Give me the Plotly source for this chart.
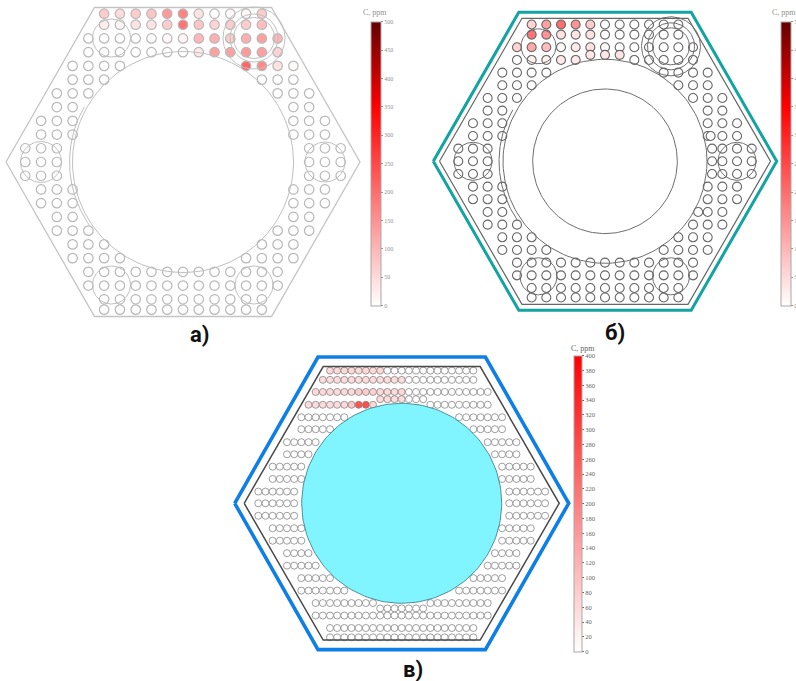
import numpy as np
import plotly.graph_objects as go

# --- tube lattice: (row, first column, last column) -------------------------
SHARED_SPANS = [
    (10.8, -5, 5), (10, -5, 5), (9, -6, 6),
    (7, -7, -4), (7, 4, 7), (6, -7, -5), (6, 5, 7), (5, -8, -6), (5, 6, 8),
    (4, -8, -7), (4, 7, 8), (3, -9, -7), (3, 7, 9), (2, -9, -7), (2, 7, 9),
    (1, -10, -8), (1, 8, 10), (0, -10, -8), (0, 8, 10), (-1, -10, -8), (-1, 8, 10),
    (-2, -9, -7), (-2, 7, 9), (-3, -9, -7), (-3, 7, 9), (-4, -8, -7), (-4, 7, 8),
    (-5, -8, -6), (-5, 6, 8), (-6, -7, -5), (-6, 5, 7), (-7, -7, -4), (-7, 4, 7),
    (-8, -6, 6), (-9, -6, 6), (-10, -5, 5), (-10.75, -5, 5),
]
A_SPANS = SHARED_SPANS + [(8, -6, 6)]
B_SPANS = SHARED_SPANS + [(8, -6, -2), (8.4, -1, 1), (8, 2, 6)]
B_EXTRA_TUBES = [(1, 7.3), (0, 7.3), (-1, 7.3), (-4, 6.35), (2, 7.2)]
C_SPANS = [
    (10.64, -10, 10), (9.9, -11, 10), (8.93, -12, 12), (8.35, -3, 3),
    (7.9, -13, -4), (7.9, 4, 12), (6.9, -14, -8), (6.9, 8, 14),
    (5.94, -14, -10), (5.94, 10, 14), (4.9, -16, -12), (4.9, 12, 16),
    (3.93, -16, -13), (3.93, 13, 16), (2.94, -18, -14), (2.94, 14, 18),
    (1.95, -18, -14), (1.95, 14, 18), (0.94, -20, -15), (0.94, 15, 20),
    (0, -20, -15), (0, 15, 20), (-1, -20, -15), (-1, 15, 20),
    (-2, -18, -14), (-2, 14, 18), (-3, -18, -14), (-3, 14, 18),
    (-4, -16, -13), (-4, 13, 16), (-5, -16, -12), (-5, 12, 16),
    (-6, -14, -10), (-6, 10, 14), (-7, -14, -8), (-7, 8, 14),
    (-8, -12, -4), (-8, 4, 12), (-8.43, -3, 3), (-9, -12, 12),
    (-10, -10, 10), (-10.75, -10, 10),
]

# --- concentration, ppm: row -> values starting at the given column ---------
A_C = {
    10.8: (-5, [70, 50, 70, 80, 140, 170, 40, 0, 5, 10, 70]),
    10: (-5, [25, 15, 40, 40, 70, 190, 80, 60, 70, 70, 90]),
    9: (-6, [0, 0, 0, 0, 0, 10, 15, 100, 110, 70, 110, 130, 100]),
    8: (-6, [0, 0, 0, 0, 0, 0, 0, 30, 130, 130, 140, 130, 60]),
    7: (4, [210, 160, 40, 5]),
}
B_C = {
    10.8: (-5, [60, 130, 200, 150, 70]),
    10: (-5, [190, 150, 40, 40, 40]),
    9: (-6, [60, 120, 90, 5, 30, 40, 5]),
    8: (-5, [20, 20, 30, 30]),
    8.4: (-1, [35, 35, 35]),
}
C_C = {
    10.64: (-10, [60, 60, 60, 60, 60, 60, 60, 60]),
    9.9: (-11, [55, 55, 55, 55, 55, 55, 55, 55, 55, 55, 55, 55]),
    8.93: (-12, [60, 60, 60, 60, 60, 60, 80, 80, 70, 60, 60, 60, 60]),
    8.35: (-3, [55, 55, 55, 55]),
    7.9: (-13, [55, 55, 55, 55, 55, 60, 90, 270, 280, 60]),
}
A_TICKS = [0, 50, 100, 150, 200, 250, 300, 350, 400, 450, 500]
B_TICKS = A_TICKS
C_TICKS = list(range(0, 401, 20))
COLORBAR_TITLE = "C, ppm"
CAPTIONS = ["а)", "б)", "в)"]

# --- panel geometry, in drawing units ---------------------------------------
W, H = 796, 681
DARK_SCALE = [[0, "#ffffff"], [0.7, "#ff0000"], [1, "#650000"]]
RED_SCALE = [[0, "#ffffff"], [1, "#ff0000"]]


def hex_xy(half_w, half_top, half_h):
    return ([-half_w, -half_top, half_top, half_w, half_top, -half_top, -half_w],
            [0, half_h, half_h, 0, -half_h, -half_h, 0])


def ring(cx, cy, r, a0=0, a1=360):
    t = np.radians(np.linspace(a0, a1, 181))
    return cx + r * np.cos(t), cy + r * np.sin(t)


def tubes(spans, conc, extras=()):
    pts = {}
    for row, c0, c1 in spans:
        for col in range(c0, c1 + 1):
            pts[(row, col)] = 0
    for row, (c0, vals) in conc.items():
        for i, v in enumerate(vals):
            pts[(row, c0 + i)] = v
    for row, col in extras:
        pts[(row, col)] = 0
    keys = list(pts)
    return (np.array([k[1] for k in keys], float), np.array([k[0] for k in keys], float),
            np.array([pts[k] for k in keys], float))


PANELS = [
    dict(cx=183, cy=162, px=15.77, py=13.73, spans=A_SPANS, c=A_C, extra=(), cmax=500, scale=DARK_SCALE,
         ms=9.5, ml=1.2, tube="#b8b8b8", ticks=A_TICKS, bar=(371, 21.7, 10, 284), tick="#909090", fs=6,
         title_xy=(375, 12.5), ring_color="#bfbfbf"),
    dict(cx=605, cy=161.3, px=14.67, py=12.67, spans=B_SPANS, c=B_C, extra=B_EXTRA_TUBES, cmax=500, scale=DARK_SCALE,
         ms=9, ml=1.1, tube="#666666", ticks=B_TICKS, bar=(781, 21.7, 10, 284), tick="#909090", fs=6,
         title_xy=(784, 12.5), ring_color="#6e6e6e"),
    dict(cx=401.7, cy=503.3, px=7.17, py=12.47, spans=C_SPANS, c=C_C, extra=(), cmax=400, scale=RED_SCALE,
         ms=7, ml=0.8, tube="#858585", ticks=C_TICKS, bar=(574, 355.7, 8, 296), tick="#666666", fs=6.5,
         title_xy=(582.5, 348.5), ring_color="#666666"),
]
HALF = 195  # half-size of each panel's axes

# outline: (half width, half top edge, half height, colour, line width)
OUTLINES = [
    [(177, 88.5, 154.5, "#c4c4c4", 1.3)],
    [(171.7, 86.2, 149, "#13a3a3", 3), (165.5, 83, 143, "#666666", 1.2)],
    [(167, 83.7, 146.3, "#0f7fe8", 3.6), (157.5, 78.5, 136.8, "#4a4a4a", 1.5)],
]
# thin circles: (x, y, radius, start angle, end angle), measured from the panel centre
RINGS = [
    [(0, 0, 110.5, 0, 360), (-3, 0, 110.5, 150, 215), (-71.5, 124, 19, 0, 360), (71, 124, 20.5, 0, 360),
     (71, 124, 24, 0, 360), (71, 124, 31, 0, 360), (-142, 0, 20.5, 0, 360), (142, 0, 20, 0, 360),
     (-71.5, -123, 19, 0, 360), (71, -123, 19, 0, 360)],
    [(0, 0, 102, 0, 360), (-3, 0, 103, 150, 215), (0, 0, 72.3, 0, 360), (-66.5, 115, 17.5, 0, 360),
     (66, 115, 18.5, 0, 360), (66, 115, 23.5, 0, 360), (66, 115, 29.5, 0, 360), (-132, 0, 19, 0, 360),
     (132, 0, 19, 0, 360), (-66.5, -115, 18.5, 0, 360), (66, -115, 18.5, 0, 360)],
    [],
]
CORE = (0, 0, 100)  # cyan core of panel в

fig = go.Figure()
layout_axes = {}
for i, p in enumerate(PANELS):
    suffix = "" if i == 0 else str(i + 1)
    xref, yref = "x" + suffix, "y" + suffix
    off = dict(visible=False, showgrid=False, zeroline=False, fixedrange=True)
    layout_axes["xaxis" + suffix] = dict(
        off, domain=[max(0, (p["cx"] - HALF) / W), min(1, (p["cx"] + HALF) / W)],
        range=[max(0, p["cx"] - HALF) - p["cx"], min(W, p["cx"] + HALF) - p["cx"]], anchor=yref)
    y0, y1 = max(0, p["cy"] - 175), min(H, p["cy"] + 175)
    layout_axes["yaxis" + suffix] = dict(
        off, domain=[1 - y1 / H, 1 - y0 / H], range=[p["cy"] - y1, p["cy"] - y0], anchor=xref)

    col, row, val = tubes(p["spans"], p["c"], p["extra"])
    bx, by, bw, bh = p["bar"]
    fig.add_trace(go.Scatter(
        x=col * p["px"], y=row * p["py"], mode="markers", xaxis=xref, yaxis=yref, showlegend=False,
        marker=dict(
            size=p["ms"], color=val, cmin=0, cmax=p["cmax"], colorscale=p["scale"],
            line=dict(color=p["tube"], width=p["ml"]),
            colorbar=dict(
                x=bx / W, xanchor="left", xpad=0, y=1 - (by + bh) / H, yanchor="bottom", ypad=0,
                lenmode="pixels", len=bh, thicknessmode="pixels", thickness=bw,
                outlinecolor="#a8a8a8", outlinewidth=1, ticks="outside", ticklen=2, tickwidth=1,
                tickcolor=p["tick"], tickvals=p["ticks"],
                tickfont=dict(family="Liberation Serif", size=p["fs"], color=p["tick"]),
            ),
        ),
    ))
    for hw, ht, hh, colr, lw in OUTLINES[i]:
        hx, hy = hex_xy(hw, ht, hh)
        fig.add_trace(go.Scatter(x=hx, y=hy, mode="lines", xaxis=xref, yaxis=yref, showlegend=False,
                                 line=dict(color=colr, width=lw), hoverinfo="skip"))
    for rx, ry, rr, a0, a1 in RINGS[i]:
        cx_, cy_ = ring(rx, ry, rr, a0, a1)
        fig.add_trace(go.Scatter(x=cx_, y=cy_, mode="lines", xaxis=xref, yaxis=yref, showlegend=False,
                                 line=dict(color=p["ring_color"], width=1), hoverinfo="skip"))
    if i == 2:
        cx_, cy_ = ring(*CORE)
        fig.add_trace(go.Scatter(x=cx_, y=cy_, mode="lines", fill="toself", fillcolor="#80f4ff",
                                 xaxis=xref, yaxis=yref, showlegend=False,
                                 line=dict(color="#4f8f96", width=1), hoverinfo="skip"))

caption_pos = [(200, 334), (615, 332), (413, 669)]
annotations = [
    dict(text=t, x=x / W, y=1 - y / H, xref="paper", yref="paper", showarrow=False,
         xanchor="center", yanchor="middle",
         font=dict(family="Roboto", size=22, color="#111111", weight="bold"))
    for t, (x, y) in zip(CAPTIONS, caption_pos)
]
annotations += [
    dict(text=COLORBAR_TITLE, x=p["title_xy"][0] / W, y=1 - p["title_xy"][1] / H, xref="paper", yref="paper",
         showarrow=False, xanchor="center", yanchor="middle",
         font=dict(family="Liberation Serif", size=8, color=p["tick"]))
    for p in PANELS
]

fig.update_layout(
    width=W, height=H, margin=dict(l=0, r=0, t=0, b=0, autoexpand=False),
    paper_bgcolor="white", plot_bgcolor="rgba(0,0,0,0)", annotations=annotations, **layout_axes,
)
fig.write_html("out.html", config=dict(displayModeBar=False),
               post_script="document.body.style.margin='0';document.body.style.overflow='hidden';")
